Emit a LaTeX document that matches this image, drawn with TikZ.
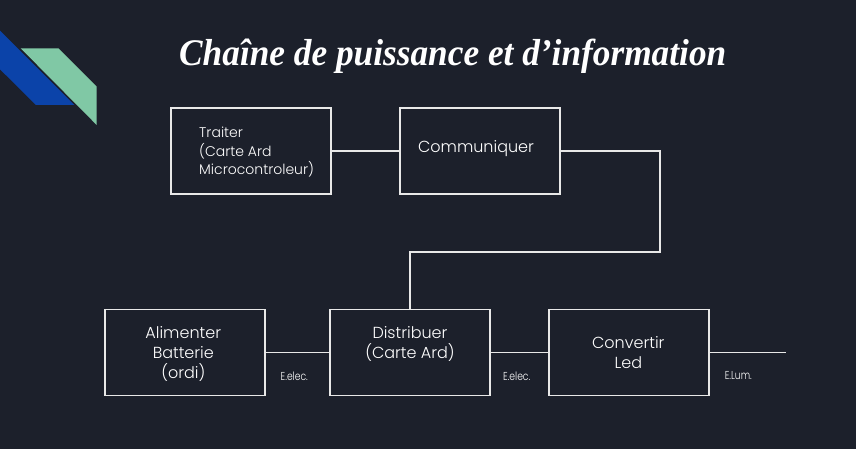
\documentclass[tikz,border=0pt]{standalone}
\usepackage{fontspec}
\newfontfamily\bodyfont{Poppins}[UprightFont={* Light}]
\newfontfamily\titlefont{Liberation Serif}
\definecolor{bgc}{HTML}{1C202B}
\definecolor{linec}{HTML}{E8E8E8}
\definecolor{stripeblue}{HTML}{0B43A9}
\definecolor{stripegreen}{HTML}{80C8A5}
\newcommand{\squeezed}[1]{\scalebox{0.8}[1]{#1}}
\begin{document}
\begin{tikzpicture}[x=1pt,y=-1pt,
  box/.style={draw=linec, line width=1.6pt, minimum width=160pt, minimum height=86pt, inner sep=0pt},
  wire/.style={draw=linec, line width=1.6pt},
  lbl/.style={text=white, font=\bodyfont\fontsize{16}{20}\selectfont, align=center, inner sep=0pt},
  lblsmall/.style={text=white, font=\bodyfont\fontsize{14}{18.5}\selectfont, align=left, inner sep=0pt},
  tiny/.style={text=white, font=\bodyfont\fontsize{11.5}{13}\selectfont, inner sep=0pt}]
\fill[bgc] (0,0) rectangle (856,449);
\useasboundingbox (0,0) rectangle (856,449);
% decoration
\fill[stripeblue] (0,30.7) -- (74.3,105) -- (36,105) -- (0,69.3) -- cycle;
\fill[stripegreen] (20.7,48.3) -- (58.3,48.3) -- (96.7,86.7) -- (96.7,125) -- cycle;
% title
\node[anchor=base west, inner sep=0pt, text=white] (title) at (179,65.7)
  {\resizebox{547pt}{26.5pt}{\titlefont\bfseries\itshape Chaîne de puissance et d’information}};
% boxes
\node[box] (traiter) at (251,151) {};
\node[box] (comm) at (480,151) {};
\node[box] (alim) at (185,352.5) {};
\node[box] (distrib) at (410,352.5) {};
\node[box] (conv) at (629,352.5) {};
% texts
\node[lblsmall, anchor=west] (traiterT) at (199,152.5) {Traiter\\(Carte Ard\\Microcontroleur)};
\node[lbl] (commT) at (476,149) {Communiquer};
\node[lbl] (alimT) at (183.3,353.5) {Alimenter\\Batterie\\(ordi)};
\node[lbl] (distribT) at (410,344) {Distribuer\\(Carte Ard)};
\node[lbl] (convT) at (628.3,352.5) {Convertir\\Led};
\node[tiny] (l1) at (294.3,376) {\squeezed{E.elec.}};
\node[tiny] (l2) at (516.7,376) {\squeezed{E.elec.}};
\node[tiny] (l3) at (738.3,376) {\squeezed{E.Lum.}};
% connectors
\coordinate (bend) at (660,252);
\coordinate (outend) at (786,352.5);
\draw[wire] (traiter.east) -- (comm.west);
\draw[wire] (comm.east) -| (bend) -| (distrib.north);
\draw[wire] (alim.east) -- (distrib.west);
\draw[wire] (distrib.east) -- (conv.west);
\draw[wire] (conv.east) -- (outend);
\end{tikzpicture}
\end{document}
